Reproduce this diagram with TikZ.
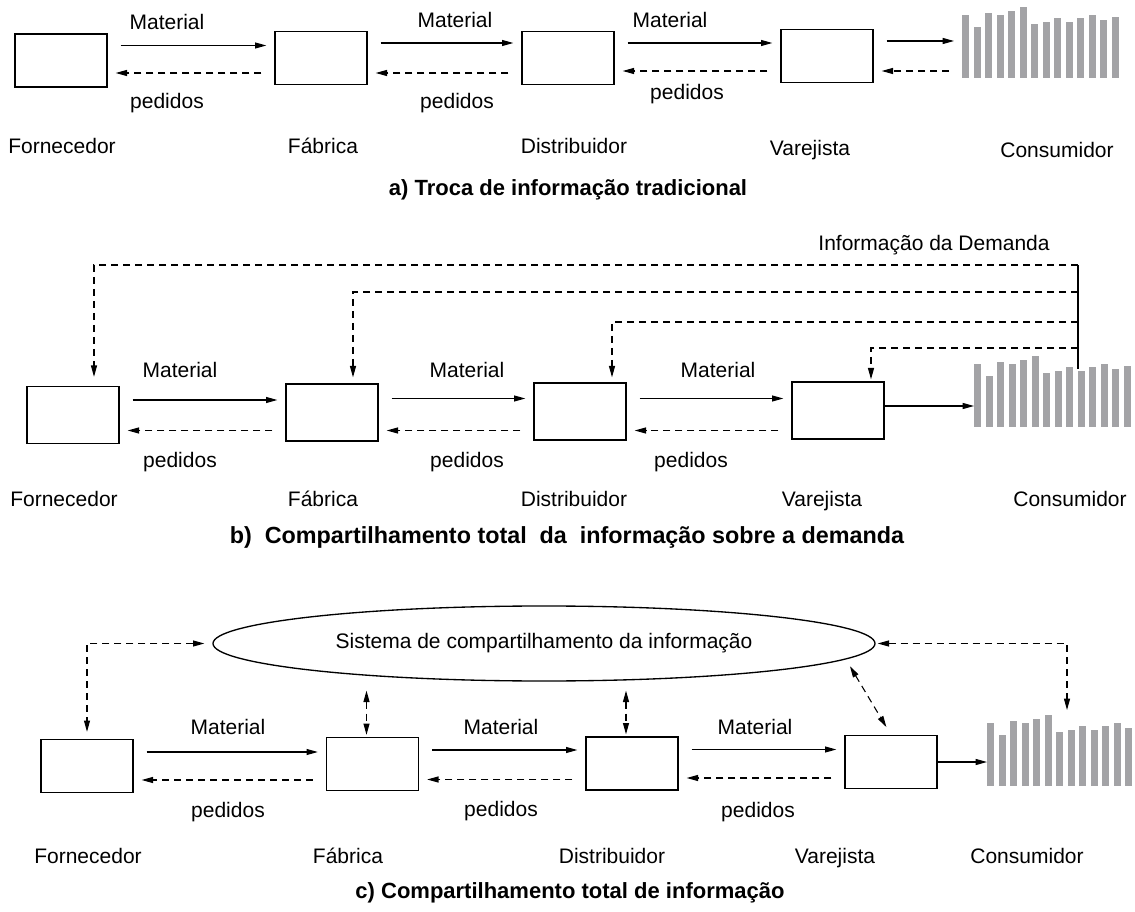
\documentclass[tikz,border=0pt]{standalone}
\usepackage{fontspec}
\setmainfont{Liberation Sans}
\usetikzlibrary{arrows.meta,shapes.geometric}
\newlength{\unitpx}
\setlength{\unitpx}{0.75pt}
\definecolor{cinzabarra}{RGB}{163,163,166}
\newcommand{\demanda}[2]{%
  \foreach \h [count=\i from 0] in {63,51,65,63,67,71,54,56,60,56,60,63,58,61}
    \fill[cinzabarra] ({#1+\i*11.5},#2) rectangle ++(7,-\h);}

\begin{document}
\begin{tikzpicture}[x=0.75pt,y=0.75pt,yscale=-1,xscale=1,
    caixa/.style={draw,line width=1pt,minimum width=92\unitpx,minimum height=53\unitpx,inner sep=0pt},
    rotulo/.style={inner sep=0.75pt,font=\fontsize{15.75}{18}\selectfont},
    titulo/.style={inner sep=0.75pt,font=\fontsize{16.5}{19}\selectfont\bfseries},
    seta/.style={line width=0.8pt,-{Triangle[length=8.5pt,width=4.5pt]}},
    mat/.style={seta,shorten <=13\unitpx,shorten >=8\unitpx},
    ped/.style={mat,dash pattern=on 5.25pt off 3.75pt},
    info/.style={seta,dash pattern=on 5.25pt off 3.75pt},
    duplo/.style={info,{Triangle[length=8.5pt,width=4.5pt]}-{Triangle[length=8.5pt,width=4.5pt]}}
  ]
  \useasboundingbox (0,0) rectangle (1135,912);

  \node[caixa] (forA) at (61,60.5) {};
  \node[caixa] (fabA) at (321,58) {};
  \node[caixa] (disA) at (568,58) {};
  \node[caixa] (varA) at (827,56) {};
  \coordinate (conA) at (962,56);
  \demanda{962}{78}
  \draw[mat] ([yshift=-15\unitpx]forA.east) -- ([yshift=-15\unitpx]forA.east -| fabA.west);
  \draw[mat] ([yshift=-15\unitpx]fabA.east) -- ([yshift=-15\unitpx]fabA.east -| disA.west);
  \draw[mat] ([yshift=-15\unitpx]disA.east) -- ([yshift=-15\unitpx]disA.east -| varA.west);
  \draw[mat] ([yshift=-15\unitpx]varA.east) -- ([yshift=-15\unitpx]varA.east -| conA);
  \draw[ped] ([yshift=15\unitpx]fabA.west) -- ([yshift=15\unitpx]fabA.west -| forA.east);
  \draw[ped] ([yshift=15\unitpx]disA.west) -- ([yshift=15\unitpx]disA.west -| fabA.east);
  \draw[ped] ([yshift=15\unitpx]varA.west) -- ([yshift=15\unitpx]varA.west -| disA.east);
  \draw[ped] ([yshift=15\unitpx]conA) -- ([yshift=15\unitpx]conA -| varA.east);
  \node[rotulo] (matA1) at (167,22) {Material};
  \node[rotulo] (matA2) at (455,20) {Material};
  \node[rotulo] (matA3) at (670,20) {Material};
  \node[rotulo] (pedA1) at (167,103) {pedidos};
  \node[rotulo] (pedA2) at (457,103) {pedidos};
  \node[rotulo] (pedA3) at (687,94) {pedidos};
  \node[rotulo] (nforA) at (62,146) {Fornecedor};
  \node[rotulo] (nfabA) at (323,146) {Fábrica};
  \node[rotulo] (ndisA) at (574,146) {Distribuidor};
  \node[rotulo] (nvarA) at (810,150) {Varejista};
  \node[rotulo] (nconA) at (1057,150) {Consumidor};
  \node[titulo] (titA) at (568,190) {a) Troca de informação tradicional};

  \node[caixa,minimum height=57\unitpx] (forB) at (73,415) {};
  \node[caixa,minimum height=57\unitpx] (fabB) at (332,412.5) {};
  \node[caixa,minimum height=57\unitpx] (disB) at (580,411.5) {};
  \node[caixa,minimum height=57\unitpx] (varB) at (838,410.5) {};
  \coordinate (conB) at (974,406);
  \demanda{974}{427}
  \draw[mat] ([yshift=-15\unitpx]forB.east) -- ([yshift=-15\unitpx]forB.east -| fabB.west);
  \draw[mat] ([yshift=-14\unitpx]fabB.east) -- ([yshift=-14\unitpx]fabB.east -| disB.west);
  \draw[mat] ([yshift=-13\unitpx]disB.east) -- ([yshift=-13\unitpx]disB.east -| varB.west);
  \draw[seta] ([yshift=-4.5\unitpx]varB.east) -- (conB);
  \draw[ped] ([yshift=18\unitpx]fabB.west) -- ([yshift=18\unitpx]fabB.west -| forB.east);
  \draw[ped] ([yshift=19\unitpx]disB.west) -- ([yshift=19\unitpx]disB.west -| fabB.east);
  \draw[ped] ([yshift=20\unitpx]varB.west) -- ([yshift=20\unitpx]varB.west -| disB.east);
  \coordinate (hub) at (1078,369);
  \coordinate (h1) at (1078,265);
  \coordinate (h2) at (1078,292);
  \coordinate (h3) at (1078,322);
  \coordinate (h4) at (1078,348);
  \draw[line width=0.8pt] (hub) -- (h1);
  \draw[info,shorten >=9\unitpx] (h1) -| ([xshift=21\unitpx]forB.north);
  \draw[info,shorten >=6\unitpx] (h2) -| ([xshift=21\unitpx]fabB.north);
  \draw[info,shorten >=5\unitpx] (h3) -| ([xshift=32\unitpx]disB.north);
  \draw[info,shorten >=2\unitpx] (h4) -| ([xshift=33\unitpx]varB.north);
  \node[rotulo] (infB) at (934,245) {Informação da Demanda};
  \node[rotulo] (matB1) at (180,370) {Material};
  \node[rotulo] (matB2) at (467,370) {Material};
  \node[rotulo] (matB3) at (718,370) {Material};
  \node[rotulo] (pedB1) at (180,462) {pedidos};
  \node[rotulo] (pedB2) at (467,462) {pedidos};
  \node[rotulo] (pedB3) at (691,462) {pedidos};
  \node[rotulo] (nforB) at (64,499) {Fornecedor};
  \node[rotulo] (nfabB) at (323,499) {Fábrica};
  \node[rotulo] (ndisB) at (574,499) {Distribuidor};
  \node[rotulo] (nvarB) at (822,501) {Varejista};
  \node[rotulo] (nconB) at (1070,499) {Consumidor};
  \node[titulo,font=\fontsize{17.5}{20}\selectfont\bfseries] (titB) at (567,537) {b)\ \ Compartilhamento total\ \ da\ \ informação sobre a demanda};

  \node[draw,ellipse,line width=1pt,minimum width=662\unitpx,minimum height=75\unitpx,inner sep=0pt,
        font=\fontsize{15.75}{18}\selectfont] (sis) at (544,643.5) {Sistema de compartilhamento da informação};
  \node[caixa] (forC) at (87,766) {};
  \node[caixa] (fabC) at (372.5,764) {};
  \node[caixa] (disC) at (632,763.5) {};
  \node[caixa] (varC) at (891,762) {};
  \coordinate (conC) at (987,763);
  \coordinate (conCt) at (1067,710);
  \demanda{987}{786}
  \draw[mat] ([yshift=-14\unitpx]forC.east) -- ([yshift=-14\unitpx]forC.east -| fabC.west);
  \draw[mat] ([yshift=-14\unitpx]fabC.east) -- ([yshift=-14\unitpx]fabC.east -| disC.west);
  \draw[mat] ([yshift=-14\unitpx]disC.east) -- ([yshift=-14\unitpx]disC.east -| varC.west);
  \draw[seta] (varC.east) -- (varC.east -| conC);
  \draw[ped] ([yshift=16\unitpx]fabC.west) -- ([yshift=16\unitpx]fabC.west -| forC.east);
  \draw[ped] ([yshift=16\unitpx]disC.west) -- ([yshift=16\unitpx]disC.west -| fabC.east);
  \draw[ped] ([yshift=16\unitpx]varC.west) -- ([yshift=16\unitpx]varC.west -| disC.east);
  \draw[duplo,shorten <=8\unitpx,shorten >=7\unitpx] (sis.west) -| (forC.north);
  \draw[duplo,shorten <=9\unitpx,shorten >=2\unitpx] ([xshift=-6\unitpx]fabC.north |- sis.south) -- ([xshift=-6\unitpx]fabC.north);
  \draw[duplo,shorten <=9\unitpx,shorten >=2\unitpx] ([xshift=-6\unitpx]disC.north |- sis.south) -- ([xshift=-6\unitpx]disC.north);
  \draw[duplo,shorten <=8\unitpx,shorten >=9\unitpx] (sis.-3.3) -- (varC.north);
  \draw[duplo,shorten <=2\unitpx] (sis.east) -| (conCt);
  \node[rotulo] (matC1) at (228,727) {Material};
  \node[rotulo] (matC2) at (501,727) {Material};
  \node[rotulo] (matC3) at (755,727) {Material};
  \node[rotulo] (pedC1) at (228,812) {pedidos};
  \node[rotulo] (pedC2) at (501,811) {pedidos};
  \node[rotulo] (pedC3) at (758,812) {pedidos};
  \node[rotulo] (nforC) at (88,856) {Fornecedor};
  \node[rotulo] (nfabC) at (348,856) {Fábrica};
  \node[rotulo] (ndisC) at (612,856) {Distribuidor};
  \node[rotulo] (nvarC) at (835,858) {Varejista};
  \node[rotulo] (nconC) at (1027,856) {Consumidor};
  \node[titulo] (titC) at (570,893) {c) Compartilhamento total de informação};
\end{tikzpicture}
\end{document}
